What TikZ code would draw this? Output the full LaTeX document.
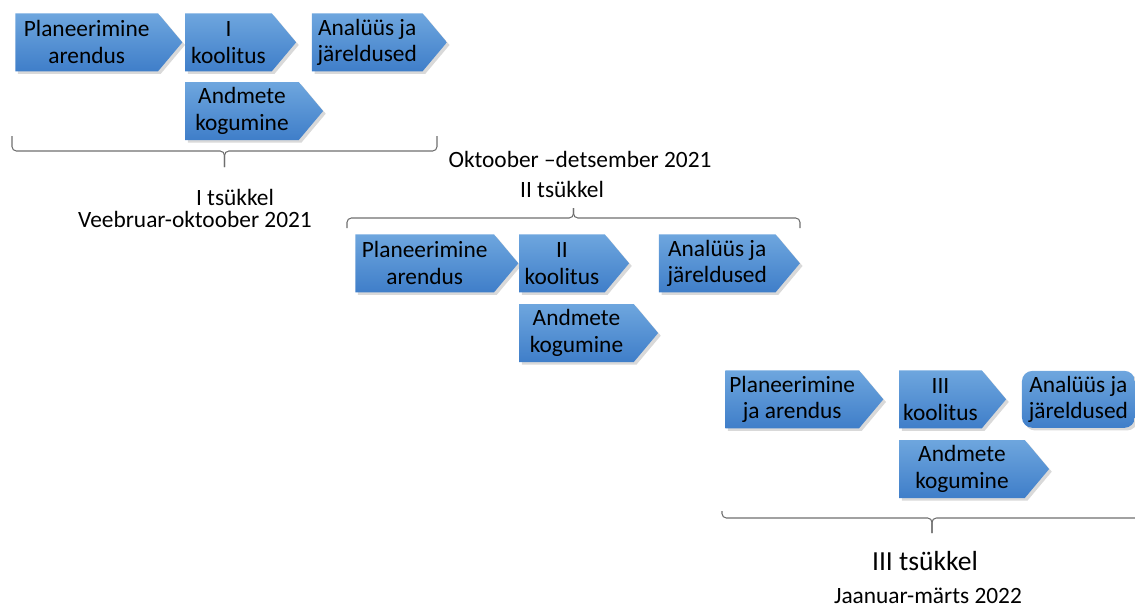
\documentclass[tikz,border=0pt]{standalone}
\usepackage{fontspec}
\setmainfont{Carlito}
\usetikzlibrary{positioning,shapes.symbols,shadows}
\definecolor{chevtop}{HTML}{6EA6DE}
\definecolor{chevbot}{HTML}{3F7EC9}
\definecolor{bracegray}{HTML}{6E6E6E}

\begin{document}
\begin{tikzpicture}[
    x=0.02cm, y=-0.02cm,
    chev/.style={signal, signal to=east, signal pointer angle=100, top color=chevtop, bottom color=chevbot, draw=none,
      drop shadow={opacity=0.3, shadow xshift=1.5pt, shadow yshift=-1.5pt},
      minimum height=1.16cm, inner sep=1pt, align=center, font=\fontsize{13.3}{15.3}\selectfont},
    box/.style={rounded corners=6pt, top color=chevtop, bottom color=chevbot, draw=none,
      drop shadow={opacity=0.3, shadow xshift=1.5pt, shadow yshift=-1.5pt},
      minimum height=1.14cm, inner sep=1pt, align=center, font=\fontsize{13.3}{15.3}\selectfont},
    brc/.style={draw=bracegray, line width=0.6pt, rounded corners=2.5pt},
    lbl/.style={anchor=base, inner sep=0pt, font=\fontsize{13.3}{15.3}\selectfont}
  ]
  \useasboundingbox (0,0) rectangle (1135,612);
  \clip (0,0) rectangle (1135,612);

  % I tsukkel
  \node[chev, anchor=north west, minimum width=3.34cm] (plan1) at (15,13) {Planeerimine\\arendus};
  \node[chev, right=0.04cm of plan1, minimum width=2.22cm] (kool1) {I\\koolitus};
  \node[chev, right=0.3cm of kool1, minimum width=2.7cm] (anal1) {Analüüs ja\\järeldused};
  \node[chev, below=0.2cm of kool1.south west, anchor=north west, minimum width=2.76cm] (andm1) {Andmete\\kogumine};

  \coordinate (br1a) at (437,136);
  \coordinate (br1b) at (12,136);
  \coordinate (br1m) at (224.5,151);
  \coordinate (br1t) at (224.5,167);
  \draw[brc] (br1a) |- (br1m) -- (br1t);
  \draw[brc] (br1b) |- (br1m) -- (br1t);
  \node[lbl] (tsy1) at (235,205) {I tsükkel};
  \node[lbl] (aeg1) at (195,227) {Veebruar-oktoober 2021};

  % II tsukkel
  \node[lbl] (aeg2) at (580,167) {Oktoober –detsember 2021};
  \node[lbl] (tsy2) at (562,197) {II tsükkel};
  \coordinate (br2a) at (347,228);
  \coordinate (br2b) at (800,228);
  \coordinate (br2m) at (573.5,218);
  \coordinate (br2t) at (573.5,208);
  \draw[brc] (br2a) |- (br2m) -- (br2t);
  \draw[brc] (br2b) |- (br2m) -- (br2t);

  \node[chev, anchor=north west, minimum width=3.26cm] (plan2) at (355,234) {Planeerimine\\arendus};
  \node[chev, right=0cm of plan2, minimum width=2.2cm] (kool2) {II\\koolitus};
  \node[chev, right=0.58cm of kool2, minimum width=2.82cm] (anal2) {Analüüs ja\\järeldused};
  \node[chev, below=0.22cm of kool2.south west, anchor=north west, minimum width=2.78cm] (andm2) {Andmete\\kogumine};

  % III tsukkel
  \node[chev, anchor=north west, minimum width=3.16cm] (plan3) at (725,370) {Planeerimine\\ja arendus};
  \node[chev, right=0.3cm of plan3, minimum width=2.14cm] (kool3) {III\\koolitus};
  \node[box, right=0.3cm of kool3, minimum width=2.26cm] (anal3) {Analüüs ja\\järeldused};
  \node[chev, below=0.22cm of kool3.south west, anchor=north west, minimum width=3cm] (andm3) {Andmete\\kogumine};

  \coordinate (br3a) at (722,511);
  \coordinate (br3b) at (1142,511);
  \coordinate (br3m) at (932,518);
  \coordinate (br3t) at (932,533);
  \draw[brc] (br3a) |- (br3m) -- (br3t);
  \draw[brc] (br3b) |- (br3m) -- (br3t);
  \node[lbl, font=\fontsize{15.7}{18}\selectfont] (tsy3) at (925,570) {III tsükkel};
  \node[lbl] (aeg3) at (928,603) {Jaanuar-märts 2022};
\end{tikzpicture}
\end{document}
